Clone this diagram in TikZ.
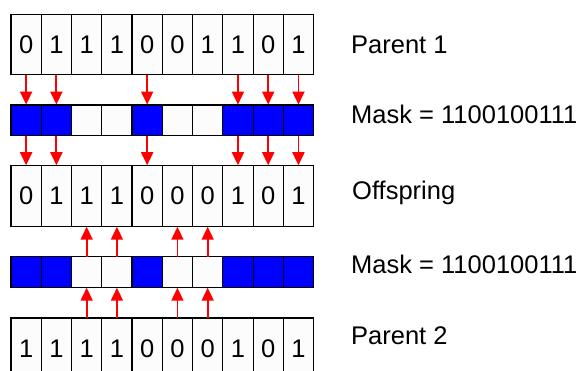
\documentclass[tikz,border=0pt]{standalone}
\usepackage{fontspec}
\setmainfont{Liberation Sans}
\usetikzlibrary{arrows.meta}
\definecolor{maskblue}{RGB}{0,0,255}
\definecolor{arrowred}{RGB}{255,0,0}
\definecolor{cellwhite}{RGB}{253,252,252}
\tikzset{
  bitcell/.style={draw=black, line width=1.1pt, fill=cellwhite, inner sep=0pt, outer sep=0pt,
    minimum width=30.26pt, minimum height=60.5pt, font=\fontsize{25.5}{25.5}\selectfont},
  maskcell/.style={draw=black, line width=1.1pt, inner sep=0pt, outer sep=0pt,
    minimum width=30.26pt, minimum height=30.5pt},
  on/.style={maskcell, fill=maskblue},
  off/.style={maskcell, fill=cellwhite},
  label/.style={anchor=west, inner sep=0pt, font=\fontsize{25.5}{25.5}\selectfont},
  arr/.style={draw=arrowred, line width=1.8pt, -{Triangle[length=13pt,width=12pt]}, shorten >=0.5pt}
}
\begin{document}
\begin{tikzpicture}[x=1pt,y=-1pt]
\useasboundingbox (0,0) rectangle (581,371);
\fill[white] (0,0) rectangle (581,371);

% Parent 1
\foreach \b [count=\i] in {0,1,1,1,0,0,1,1,0,1}
  \node[bitcell] (p1-\i) at ({11+30.26*(\i-0.5)},44.5) {\b};
% Mask (top)
\foreach \m [count=\i] in {on,on,off,off,on,off,off,on,on,on}
  \node[\m] (m1-\i) at ({11+30.26*(\i-0.5)},120.3) {};
% Offspring
\foreach \b [count=\i] in {0,1,1,1,0,0,0,1,0,1}
  \node[bitcell] (o-\i) at ({11+30.26*(\i-0.5)},196) {\b};
% Mask (bottom)
\foreach \m [count=\i] in {on,on,off,off,on,off,off,on,on,on}
  \node[\m] (m2-\i) at ({11+30.26*(\i-0.5)},272) {};
% Parent 2
\foreach \b [count=\i] in {1,1,1,1,0,0,0,1,0,1}
  \node[bitcell] (p2-\i) at ({11+30.26*(\i-0.5)},348.3) {\b};

% Genes taken from parent 1 where the mask bit is 1
\foreach \i in {1,2,5,8,9,10} {
  \draw[arr] (p1-\i.south) -- (m1-\i.north);
  \draw[arr] (m1-\i.south) -- (o-\i.north);
}
% Genes taken from parent 2 where the mask bit is 0
\foreach \i in {3,4,6,7} {
  \draw[arr] (p2-\i.north) -- (m2-\i.south);
  \draw[arr] (m2-\i.north) -- (o-\i.south);
}

% Row labels
\node[label] (l1) at (351,45) {Parent 1};
\node[label] (l2) at (351,114.5) {Mask = 1100100111};
\node[label] (l3) at (352,193) {Offspring};
\node[label] (l4) at (351,264.5) {Mask = 1100100111};
\node[label] (l5) at (351,336) {Parent 2};
\end{tikzpicture}
\end{document}
